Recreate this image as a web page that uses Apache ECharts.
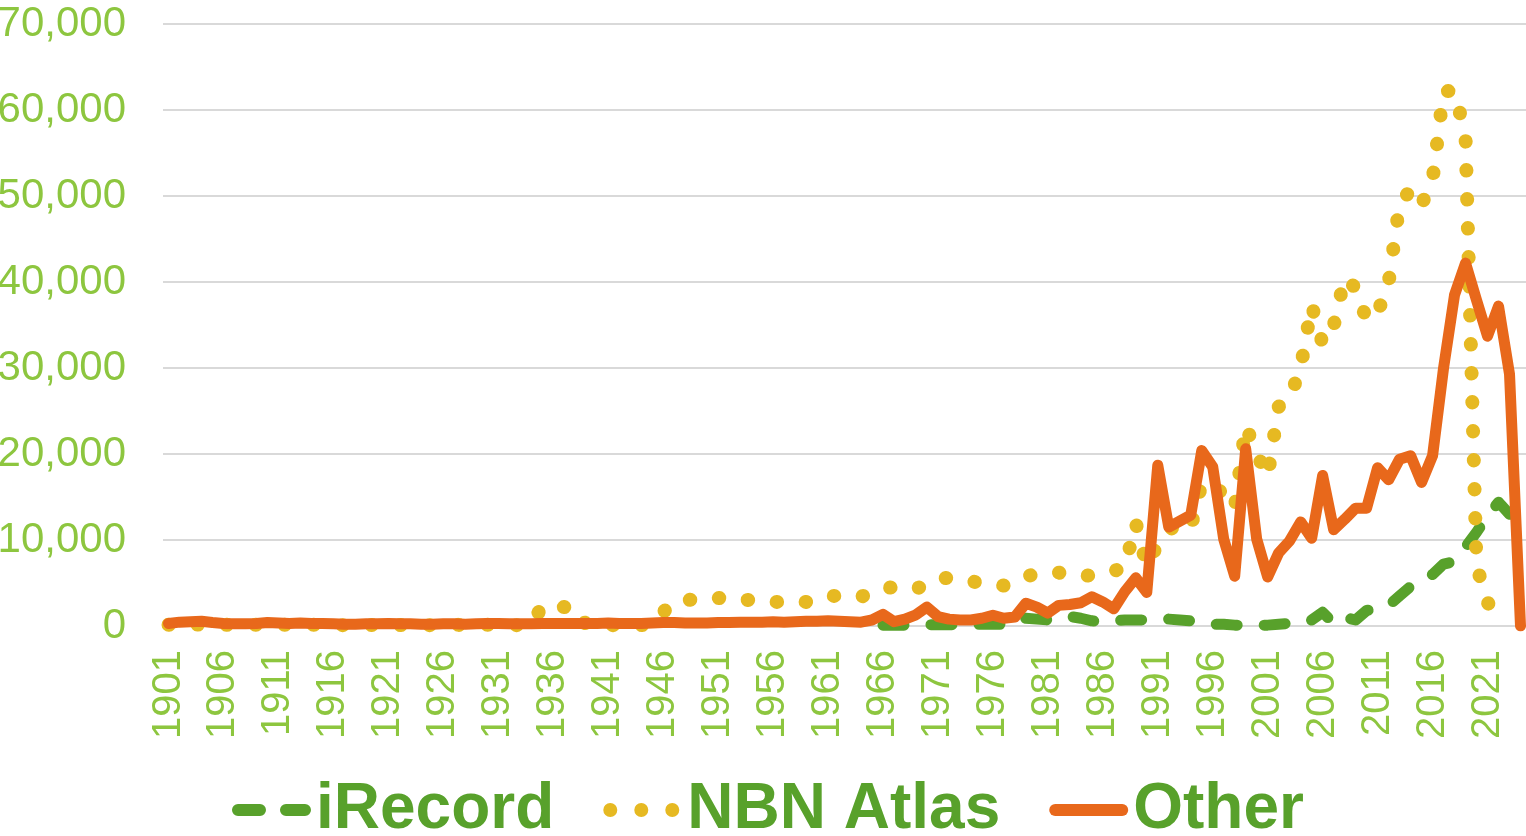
<!DOCTYPE html>
<html>
<head>
<meta charset="utf-8">
<title>Records per year</title>
<script src="https://cdn.jsdelivr.net/npm/echarts@6/dist/echarts.min.js"></script>
<style>
  html, body { margin: 0; padding: 0; background: #fff; }
  #chart { width: 1526px; height: 836px; }
</style>
</head>
<body>
<div id="chart"></div>
<script>
// years 1901 .. 2024
var years = [];
for (var y = 1901; y <= 2024; y++) years.push(String(y));

var yTicks = [0, 10000, 20000, 30000, 40000, 50000, 60000, 70000];

var iRecord = [
  null, null, null, null, null, null, null, null, null, null,   // 1901
  null, null, null, null, null, null, null, null, null, null,   // 1911
  null, null, null, null, null, null, null, null, null, null,   // 1921
  null, null, null, null, null, null, null, null, null, null,   // 1931
  null, null, null, null, null, null, null, null, null, null,   // 1941
  null, null, null, null, null, null, null, null, null, null,   // 1951
  null, null, null, null, null, 100, 100, 100, 100, 150,        // 1961
  150, 150, 150, 200, 200, 200, 200, 300, 900, 800,             // 1971
  700, 700, 1100, 900, 600, 500, 600, 700, 700, 700,            // 1981
  800, 800, 700, 600, 500, 200, 200, 100, 100, 100,             // 1991
  100, 200, 300, 300, 700, 1600, 300, 1000, 700, 1800,          // 2001
  2000, 2400, 3500, 4600, 5400, 6000, 7200, 7500, 9200, 10900,  // 2011
  12800, 14400, 13000, 10500                                    // 2021
];

var nbnAtlas = [
  150, 200, 200, 150, 150, 150, 100, 150, 150, 150,             // 1901
  150, 150, 100, 150, 150, 100, 100, 100, 150, 100,             // 1911
  100, 100, 150, 100, 100, 100, 150, 100, 100, 150,             // 1921
  150, 100, 100, 150, 2300, 2200, 2200, 2100, 150, 100,         // 1931
  100, 100, 150, 100, 150, 1600, 2800, 3000, 3100, 3200,        // 1941
  3250, 3200, 3100, 3000, 2900, 2800, 2800, 2800, 2800, 3100,   // 1951
  3500, 3500, 3400, 3400, 3900, 4400, 4500, 4400, 4300, 4900,   // 1961
  5500, 5600, 5400, 5200, 5000, 4800, 4700, 5200, 5800, 6000,   // 1971
  6100, 6200, 6000, 5800, 5900, 6200, 6400, 6800, 12000, 7000,  // 1981
  9500, 11200, 11800, 11400, 16600, 16400, 15300, 13700, 23300, 20000, // 1991
  17400, 25500, 26500, 30000, 37300, 32800, 34900, 40500, 39300, 35600, // 2001
  36400, 39900, 49100, 50700, 49000, 51900, 62200, 62200, 57000, 7000,  // 2011
  2800, 300, null, null                                         // 2021
];

var other = [
  300, 450, 500, 550, 400, 300, 250, 250, 300, 400,             // 1901
  350, 300, 350, 300, 300, 250, 200, 200, 250, 250,             // 1911
  300, 250, 250, 200, 200, 250, 250, 200, 250, 300,             // 1921
  300, 250, 250, 250, 300, 300, 300, 300, 300, 300,             // 1931
  350, 300, 300, 300, 350, 400, 400, 350, 350, 350,             // 1941
  400, 400, 450, 450, 450, 500, 450, 500, 550, 550,             // 1951
  600, 550, 500, 450, 700, 1350, 500, 800, 1300, 2200,          // 1961
  1100, 800, 700, 700, 900, 1250, 900, 1050, 2650, 2200,        // 1971
  1500, 2400, 2500, 2700, 3400, 2800, 2000, 4000, 5600, 3900,   // 1981
  18700, 11500, 12200, 12900, 20400, 18500, 10100, 5800, 20600, 10100, // 1991
  5700, 8500, 9900, 12100, 10200, 17500, 11200, 12400, 13700, 13700,   // 2001
  18400, 17000, 19400, 19800, 16700, 19800, 30000, 38500, 42200, 37900, // 2011
  33700, 37200, 29300, 0                                        // 2021
];

var green = '#58a12b';
var gold = '#e6b922';
var orange = '#e8681b';
var labelColor = '#8dc63f';
var gridColor = '#d9d9d9';
var font = '"Liberation Sans", Arial, sans-serif';

// legend icons drawn in a 79 x 14 box
var dashIcon = 'path://M0,0M0,14' +
  'M6,1L28,1A6,6 0 0 1 28,13L6,13A6,6 0 0 1 6,1Z' +
  'M54,1L73,1A6,6 0 0 1 73,13L54,13A6,6 0 0 1 54,1Z';
var dotIcon = 'path://M0,0M79,14' +
  'M0,7A7,7 0 1 0 14,7A7,7 0 1 0 0,7Z' +
  'M31,7A7,7 0 1 0 45,7A7,7 0 1 0 31,7Z' +
  'M62,7A7,7 0 1 0 76,7A7,7 0 1 0 62,7Z';
var solidIcon = 'path://M0,0M0,14' +
  'M6,1L73,1A6,6 0 0 1 73,13L6,13A6,6 0 0 1 6,1Z';

function thousands(v) {
  return String(v).replace(/\B(?=(\d{3})+(?!\d))/g, ',');
}

var chart = echarts.init(document.getElementById('chart'));

var option = {
  animation: false,
  textStyle: { fontFamily: font },
  grid: { left: 163, right: 0, top: 24, bottom: 210, outerBoundsMode: 'none' },
  legend: {
    left: 232,
    top: 778,
    padding: 0,
    itemGap: 49,
    itemWidth: 79,
    itemHeight: 14,
    itemStyle: { borderWidth: 0 },
    textStyle: { fontSize: 64, fontWeight: 'bold', color: green, fontFamily: font },
    data: [
      { name: 'iRecord', icon: dashIcon },
      { name: 'NBN Atlas', icon: dotIcon },
      { name: 'Other', icon: solidIcon }
    ]
  },
  xAxis: {
    type: 'category',
    data: years,
    boundaryGap: true,
    axisLine: { lineStyle: { color: gridColor, width: 2 } },
    axisTick: { show: false },
    axisLabel: { interval: 4, rotate: 90, margin: 24, fontSize: 40, color: labelColor }
  },
  yAxis: {
    type: 'value',
    min: yTicks[0],
    max: yTicks[yTicks.length - 1],
    interval: yTicks[1] - yTicks[0],
    axisLine: { show: false },
    axisTick: { show: false },
    splitLine: { lineStyle: { color: gridColor, width: 2 } },
    axisLabel: { margin: 37, fontSize: 42, color: labelColor, formatter: thousands }
  },
  series: [
    {
      name: 'iRecord',
      type: 'line',
      data: iRecord,
      symbol: 'none',
      color: green,
      lineStyle: { width: 11, type: [21, 27], cap: 'round', join: 'round' }
    },
    {
      name: 'NBN Atlas',
      type: 'line',
      data: nbnAtlas,
      symbol: 'none',
      color: gold,
      lineStyle: { width: 14, type: [0.5, 28.5], cap: 'round', join: 'round' }
    },
    {
      name: 'Other',
      type: 'line',
      data: other,
      symbol: 'none',
      color: orange,
      lineStyle: { width: 11, cap: 'round', join: 'round' }
    }
  ]
};

chart.setOption(option);
</script>
</body>
</html>
